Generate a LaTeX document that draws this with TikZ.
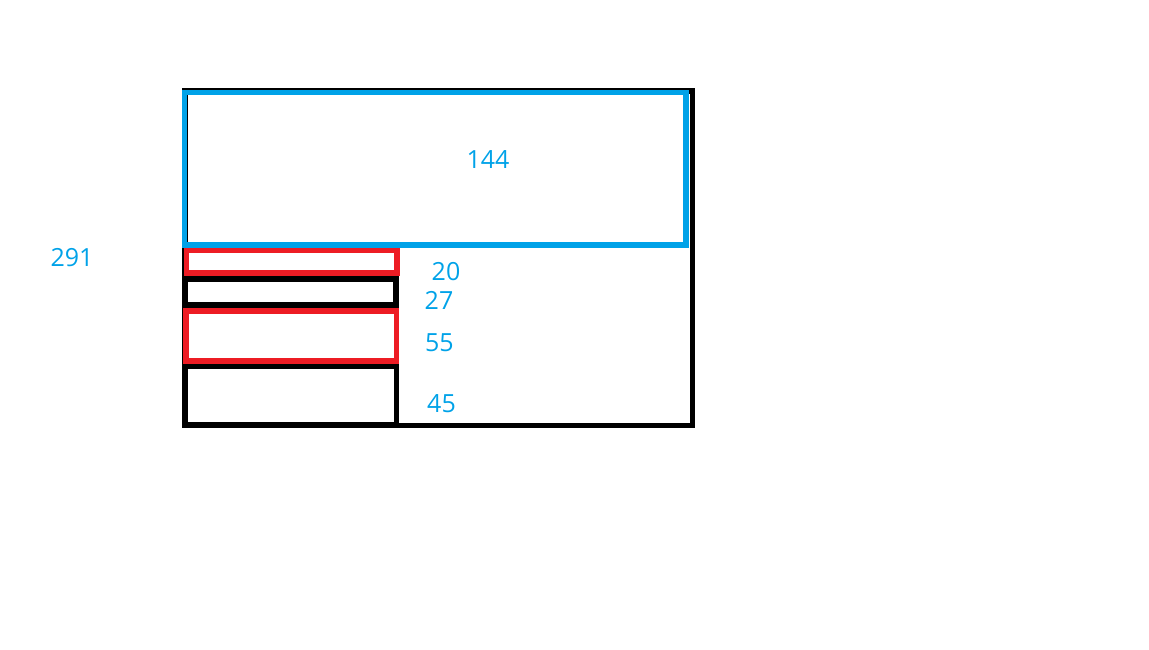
\documentclass[tikz,border=0pt]{standalone}
\usepackage{fontspec}
\setmainfont{Open Sans}
\definecolor{pblue}{HTML}{00A2E8}
\definecolor{pred}{HTML}{ED1C24}
\begin{document}
\begin{tikzpicture}[x=1pt,y=-1pt,
  box/.style={line width=5.2pt},
  num/.style={text=pblue,inner sep=0pt,font=\fontsize{25}{30}\selectfont}]
\useasboundingbox (0,0) rectangle (1149,650);
% outer frame
\draw[box,black] (185,91) rectangle (692.5,425.5);
% left column boxes
\draw[box,black] (185.5,279) rectangle (396,305);
\draw[box,black] (185.5,366.5) rectangle (396.5,425);
\draw[box,pred] (186.5,250.5) rectangle (397,273);
\draw[box,pred] (186,311) rectangle (396.5,361);
% top blue box
\draw[box,pblue] (184.5,92.5) rectangle (686,245);
% labels
\node[num] (n144) at (488,160) {144};
\node[num] (n291) at (72,258) {291};
\node[num] (n20) at (446,271.5) {20};
\node[num] (n27) at (439,300) {27};
\node[num] (n55) at (439.3,343) {55};
\node[num] (n45) at (441.5,404) {45};
\end{tikzpicture}
\end{document}
